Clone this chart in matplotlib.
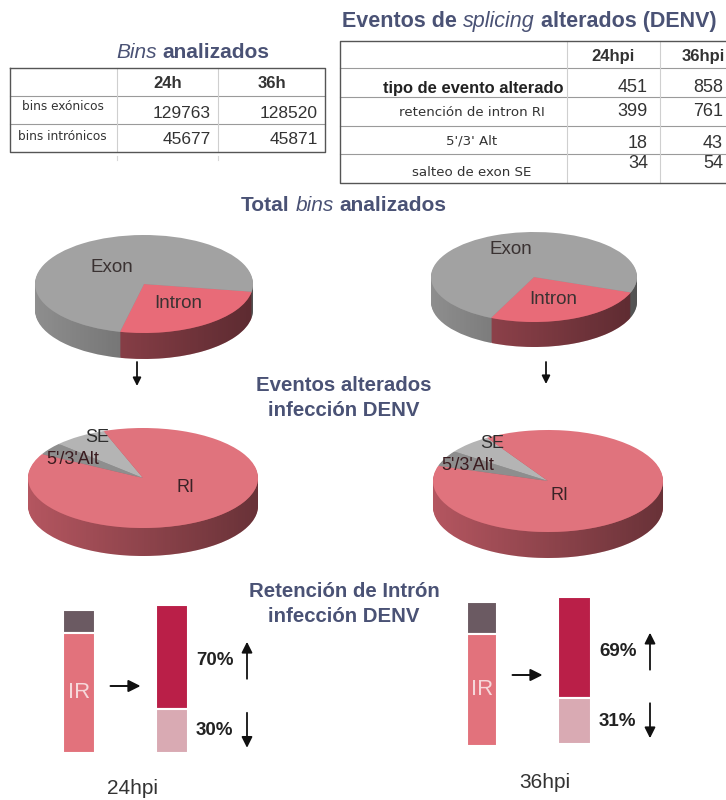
import matplotlib
matplotlib.use('Agg')
import matplotlib.pyplot as plt
import numpy as np
from matplotlib.colors import LinearSegmentedColormap
from matplotlib.patches import Polygon
from matplotlib.transforms import Affine2D

plt.rcParams['font.family'] = ['Liberation Sans', 'DejaVu Sans']

# tabla de bins analizados
tiempos_bins = ['24h', '36h']
tipos_bins = ['bins exónicos', 'bins intrónicos']
bins_exonicos = [129763, 128520]
bins_intronicos = [45677, 45871]

# tabla de eventos de splicing alterados
tiempos_eventos = ['24hpi', '36hpi']
filas_eventos = ['tipo de evento alterado', 'retención de intron RI', "5'/3' Alt", 'salteo de exon SE']
eventos_24 = [451, 399, 18, 34]
eventos_36 = [858, 761, 43, 54]

# retención de intrón: fracción que sube / baja
pct_sube = [70, 69]
pct_baja = [30, 31]
frac_otros = [0.16, 0.22]

AZUL = '#4a5275'
TEXTO = '#333333'
FUENTE_FINA = ['DejaVu Sans']

fig = plt.figure(figsize=(7.26, 8.0), dpi=100)
ax = fig.add_axes([0, 0, 1, 1])


def texto_mixto(ax, x_centro, y, partes, size, color):
    renderer = ax.figure.canvas.get_renderer()
    textos = []
    for contenido, estilo, peso in partes:
        t = ax.text(0, y, contenido, fontsize=size, fontstyle=estilo, fontweight=peso,
                    color=color, ha='left', va='baseline', zorder=5)
        textos.append(t)
    anchos = [t.get_window_extent(renderer).width for t in textos]
    hueco = size * 100 / 72 * 0.28
    total = sum(anchos) + hueco * (len(textos) - 1)
    x = x_centro - total / 2
    for t, w in zip(textos, anchos):
        t.set_x(x)
        x += w + hueco


def flecha(ax, x1, y1, x2, y2, escala=14, lw=1.3):
    ax.annotate('', xy=(x2, y2), xytext=(x1, y1),
                arrowprops=dict(arrowstyle='-|>', color='#111111', lw=lw,
                                mutation_scale=escala, shrinkA=0, shrinkB=0))


sombra = LinearSegmentedColormap.from_list('sombra', [(0, 0, 0, 0.0), (0, 0, 0, 0.42)])


def pastel_3d(ax, valores, cx, cy, rx, ry, grosor, colores, colores_lado, inicio, horario):
    k = ry / rx

    def trans(dy):
        return Affine2D().scale(1, -k).translate(cx, cy + dy) + ax.transData

    for d in range(grosor, 0, -1):
        cunas = ax.pie(valores, radius=rx, startangle=inicio, counterclock=not horario,
                       colors=colores_lado, wedgeprops=dict(linewidth=0))[0]
        for w in cunas:
            w.set_transform(trans(d))
            w.set_zorder(1)

    th = np.linspace(np.pi, 2 * np.pi, 120)
    arriba = np.column_stack([cx + rx * np.cos(th), cy - ry * np.sin(th)])
    abajo = arriba[::-1] + [0, grosor]
    lado = Polygon(np.vstack([arriba, abajo]), closed=True, facecolor='none',
                   edgecolor='none', transform=ax.transData)
    ax.add_patch(lado)
    img = ax.imshow(np.linspace(0, 1, 256).reshape(1, -1), cmap=sombra, aspect='auto',
                    extent=(cx - rx, cx + rx, cy + ry + grosor, cy), zorder=1.5)
    img.set_clip_path(lado)

    cunas = ax.pie(valores, radius=rx, startangle=inicio, counterclock=not horario,
                   colors=colores, wedgeprops=dict(linewidth=0))[0]
    for w in cunas:
        w.set_transform(trans(0))
        w.set_zorder(2)


# ---- títulos y tablas ----
texto_mixto(ax, 193, 58, [('Bins', 'italic', 'normal'), ('analizados', 'normal', 'bold')], 15, AZUL)
texto_mixto(ax, 529, 27, [('Eventos de', 'normal', 'bold'), ('splicing', 'italic', 'normal'),
                          ('alterados (DENV)', 'normal', 'bold')], 15.5, AZUL)

# tabla izquierda
cols_izq = [10, 117, 218, 325]
filas_izq = [68, 96, 124, 152]
for y in filas_izq[1:-1]:
    ax.plot([cols_izq[0], cols_izq[-1]], [y, y], color='#9a9a9a', lw=0.8, zorder=4)
for x in cols_izq[1:-1]:
    ax.plot([x, x], [filas_izq[0], filas_izq[-1]], color='#cfcfcf', lw=0.8, zorder=4)
    ax.plot([x, x], [156, 160], color='#d8d8d8', lw=0.8, zorder=4)
ax.plot([cols_izq[0], cols_izq[-1], cols_izq[-1], cols_izq[0], cols_izq[0]],
        [filas_izq[0], filas_izq[0], filas_izq[-1], filas_izq[-1], filas_izq[0]],
        color='#555555', lw=1.0, zorder=4)
for j, t in enumerate(tiempos_bins):
    ax.text((cols_izq[j + 1] + cols_izq[j + 2]) / 2, 83, t, fontsize=12, fontweight='bold',
            color=TEXTO, ha='center', va='center')
for i, (nombre, serie) in enumerate(zip(tipos_bins, [bins_exonicos, bins_intronicos])):
    y0 = filas_izq[i + 1]
    ax.text((cols_izq[0] + cols_izq[1]) / 2 - 1, y0 + 10 + i * 3, nombre, fontsize=8.7,
            family=FUENTE_FINA, color=TEXTO, ha='center', va='center')
    for j, v in enumerate(serie):
        ax.text(cols_izq[j + 2] - 7, y0 + 18 - i * 3, str(v), fontsize=12.5,
                color=TEXTO, ha='right', va='center')

# tabla derecha
cols_der = [340, 567, 660, 740]
filas_der = [41, 68, 97, 126, 154, 183]
for y in filas_der[1:-1]:
    ax.plot([cols_der[0], cols_der[-1]], [y, y], color='#9a9a9a', lw=0.8, zorder=4)
for x in cols_der[1:-1]:
    ax.plot([x, x], [filas_der[0], filas_der[-1]], color='#cfcfcf', lw=0.8, zorder=4)
ax.plot([cols_der[-1], cols_der[0], cols_der[0], cols_der[-1]],
        [filas_der[0], filas_der[0], filas_der[-1], filas_der[-1]],
        color='#555555', lw=1.0, zorder=4)
for j, t in enumerate(tiempos_eventos):
    ax.text([613, 703][j], 56, t, fontsize=12, fontweight='bold', color=TEXTO,
            ha='center', va='center')
dy_etiqueta = [20, 15, 15, 19]
dy_valor = [20, 15, 18, 10]
for i, nombre in enumerate(filas_eventos):
    y0 = filas_der[i + 1]
    if i == 0:
        ax.text(473, y0 + dy_etiqueta[i], nombre, fontsize=11.9, fontweight='bold',
                color='#222222', ha='center', va='center')
    else:
        ax.text(472, y0 + dy_etiqueta[i], nombre, fontsize=9.6, family=FUENTE_FINA,
                color=TEXTO, ha='center', va='center')
    for j, serie in enumerate([eventos_24, eventos_36]):
        ax.text([648, 723][j], y0 + dy_valor[i], str(serie[i]), fontsize=13,
                color=TEXTO, ha='right', va='center')

# ---- pasteles ----
texto_mixto(ax, 344, 211, [('Total', 'normal', 'bold'), ('bins', 'italic', 'normal'),
                           ('analizados', 'normal', 'bold')], 15, AZUL)

col_bins = ['#e86b78', '#a2a2a2']
col_bins_lado = ['#a04a54', '#8e8e8e']
pastel_3d(ax, [bins_intronicos[0], bins_exonicos[0]], 144, 284, 109, 49, 26,
          col_bins, col_bins_lado, -9, True)
pastel_3d(ax, [bins_intronicos[1], bins_exonicos[1]], 534, 277, 103, 45, 25,
          col_bins, col_bins_lado, -20, True)
for x, y, t in [(112, 267, 'Exon'), (178, 304, 'Intron'), (511, 250, 'Exon'), (553, 300, 'Intron')]:
    ax.text(x, y, t, fontsize=13.5, color='#3a3232', ha='center', va='center', zorder=3)

ax.text(344, 398, 'Eventos alterados\ninfección DENV', fontsize=14.7, fontweight='bold',
        color=AZUL, ha='center', va='center', linespacing=1.35)

flecha(ax, 137, 362, 137, 386, escala=12)
flecha(ax, 546, 362, 546, 384, escala=12)

col_ev = ['#b4b4b4', '#8e8e8e', '#e0737d']
col_ev_lado = ['#909090', '#707070', '#b45660']
pastel_3d(ax, [eventos_24[3], eventos_24[2], eventos_24[1]], 143, 478, 115, 50, 28,
          col_ev, col_ev_lado, 110, False)
pastel_3d(ax, [eventos_36[3], eventos_36[2], eventos_36[1]], 548, 481, 115, 51, 26,
          col_ev, col_ev_lado, 122, False)
for cx, cy in [(0, 0), (395, 5)]:
    ax.text(97 + cx, 438 + cy, 'SE', fontsize=13, color='#2e2e2e', ha='center', va='center', zorder=3)
    ax.text(73 + cx, 460 + cy, "5'/3'Alt", fontsize=13, color='#3a1c20', ha='center', va='center', zorder=3)
ax.text(186, 488, 'RI', fontsize=13, color='#3a2226', ha='center', va='center', zorder=3)
ax.text(560, 496, 'RI', fontsize=13, color='#3a2226', ha='center', va='center', zorder=3)

# ---- barras de retención de intrón ----
ax.text(344, 604, 'Retención de Intrón\ninfección DENV', fontsize=14.7, fontweight='bold',
        color=AZUL, ha='center', va='center', linespacing=1.35)

barras_ir = [(79, 32, 610, 143), (482, 30, 602, 144)]
barras_pct = [(172, 32, 605, 148), (574.5, 33, 597, 147)]
for i in range(2):
    x, w, y0, h = barras_ir[i]
    h_otros = frac_otros[i] * h
    ax.bar(x, h_otros, w, bottom=y0, color='#6b5a62', edgecolor='white', lw=1.5, zorder=2)
    ax.bar(x, h - h_otros, w, bottom=y0 + h_otros, color='#e2727c', edgecolor='white', lw=1.5, zorder=2)
    ax.text(x, y0 + h_otros + (h - h_otros) / 2, 'IR', fontsize=16, color='#f6d8da',
            ha='center', va='center', zorder=3)

    xb, wb, yb, hb = barras_pct[i]
    h_sube = pct_sube[i] / 100 * hb
    h_baja = pct_baja[i] / 100 * hb
    ax.bar(xb, h_sube, wb, bottom=yb, color='#ba1f48', edgecolor='white', lw=1.5, zorder=2)
    ax.bar(xb, h_baja, wb, bottom=yb + h_sube, color='#d9aab3', edgecolor='white', lw=1.5, zorder=2)

    derecha = xb + wb / 2
    y_sube = yb + h_sube / 2 + 4
    y_baja = yb + h_sube + h_baja / 2
    ax.text(derecha + 8, y_sube, f'{pct_sube[i]}%', fontsize=13.5, fontweight='bold',
            color='#222222', ha='left', va='center')
    ax.text(derecha + 8, y_baja, f'{pct_baja[i]}%', fontsize=13.5, fontweight='bold',
            color='#222222', ha='left', va='center')
    xa = derecha + 59
    flecha(ax, xa, y_sube + 18, xa, y_sube - 19, escala=16)
    flecha(ax, xa, y_baja - 18, xa, y_baja + 17, escala=16)

    xm = (x + w / 2 + xb - wb / 2) / 2
    ym = [686, 675][i]
    flecha(ax, xm - 15, ym, xm + 15, ym, escala=18, lw=1.4)

ax.text(133, 788, tiempos_eventos[0], fontsize=15, color=TEXTO, ha='center', va='center')
ax.text(545, 783, tiempos_eventos[1], fontsize=15, color=TEXTO, ha='center', va='center')

ax.set_aspect('auto')
ax.set_xlim(0, 726)
ax.set_ylim(800, 0)
ax.axis('off')

fig.savefig('out.png', dpi=100, facecolor='white')
